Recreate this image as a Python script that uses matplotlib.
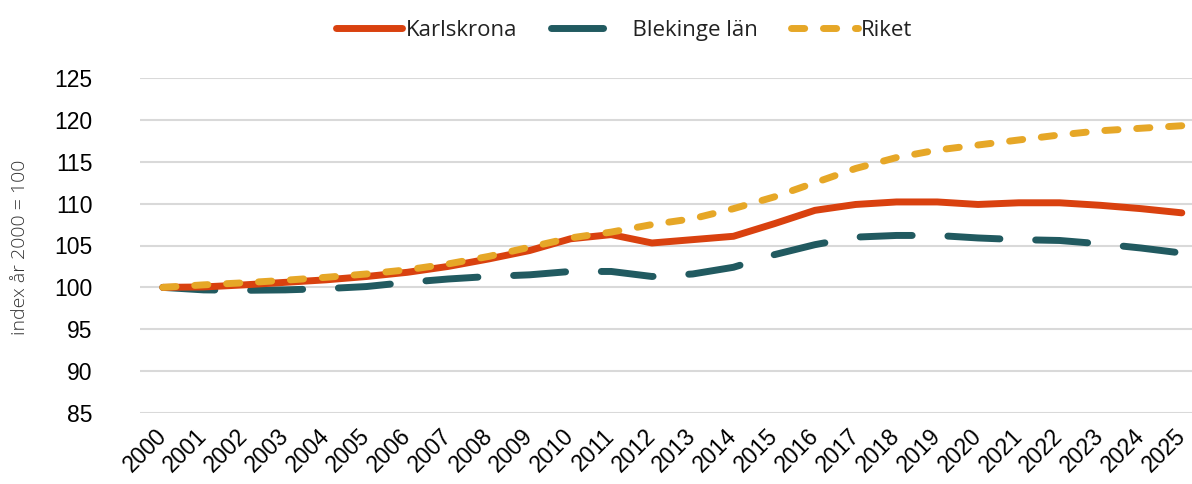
import matplotlib.pyplot as plt
import numpy as np

# data
years = [str(y) for y in range(2000, 2026)]
karlskrona = [100.0, 100.05, 100.3, 100.6, 100.9, 101.3, 101.8, 102.5, 103.4, 104.4,
              105.8, 106.3, 105.3, 105.7, 106.1, 107.6, 109.2, 109.9, 110.2, 110.2,
              109.9, 110.1, 110.1, 109.8, 109.4, 108.9]
blekinge = [100.0, 99.7, 99.65, 99.7, 99.85, 100.1, 100.6, 101.0, 101.3, 101.5,
            101.9, 101.9, 101.3, 101.6, 102.4, 103.9, 105.1, 106.0, 106.2, 106.2,
            105.9, 105.7, 105.6, 105.2, 104.7, 104.1]
riket = [100.0, 100.3, 100.55, 100.85, 101.2, 101.6, 102.1, 102.8, 103.7, 104.8,
         105.9, 106.6, 107.5, 108.2, 109.4, 110.8, 112.5, 114.2, 115.5, 116.4,
         117.0, 117.6, 118.2, 118.7, 119.0, 119.3]
yticks = [85, 90, 95, 100, 105, 110, 115, 120, 125]

c_red = '#D9410F'
c_teal = '#215A60'
c_yel = '#E6A727'

fig = plt.figure(figsize=(11.92, 4.84), dpi=100)
ax = fig.add_axes([140/1192, 1 - 413/484, 1 - 140/1192, 335/484])

x = np.arange(len(years))
lw = 5
ax.plot(x, karlskrona, color=c_red, lw=lw, solid_capstyle='round', label='Karlskrona', zorder=3)
ax.plot(x, blekinge, color=c_teal, lw=lw, dashes=(7.5, 5.15), dash_capstyle='round',
        label='  Blekinge län', zorder=2)
ax.plot(x, riket, color=c_yel, lw=lw, dashes=(1.9, 2.7), dash_capstyle='round',
        label='Riket', zorder=4)

ax.set_xlim(-0.56, 25.25)
ax.set_ylim(85, 125)
ax.set_yticks(yticks)
ax.set_xticks(x)
ax.set_xticklabels(years, rotation=45, ha='right', va='center', rotation_mode='anchor')
for lab in ax.get_xticklabels() + ax.get_yticklabels():
    lab.set_family('Liberation Sans')
    lab.set_fontsize(16.5)
ax.tick_params(axis='both', length=0)
ax.tick_params(axis='y', pad=34)
ax.tick_params(axis='x', pad=14)
ax.grid(axis='y', color='#d9d9d9', lw=1.5)
ax.set_axisbelow(True)
for s in ax.spines.values():
    s.set_visible(False)

fig.text(20/1192, 1 - 247/484, 'index år 2000 = 100', rotation=90, ha='center', va='center',
         fontsize=14, family='Open Sans', fontweight='light', color='#333333')

leg = fig.legend(loc='upper center', bbox_to_anchor=(0.5235, 1.0), ncol=3, frameon=False,
                 prop={'family': 'Open Sans', 'size': 16},
                 handlelength=3.0, handletextpad=0.15, columnspacing=1.5)
for t in leg.get_texts():
    t.set_color('#222222')

fig.savefig('out.png', dpi=100)
